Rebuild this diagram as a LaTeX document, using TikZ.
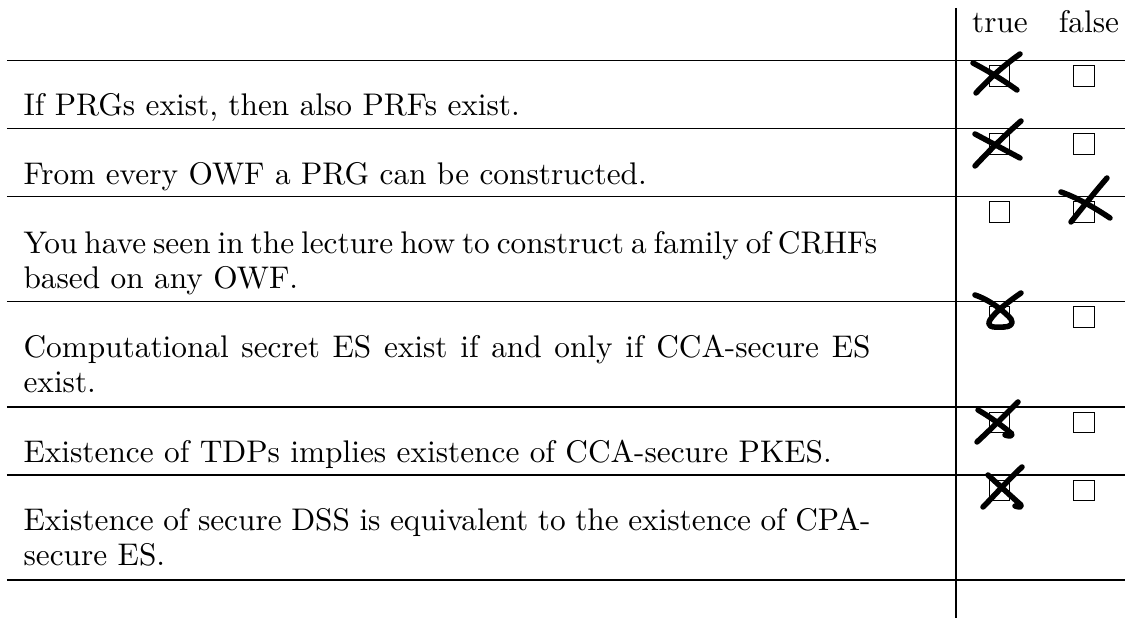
\documentclass[tikz,border=0pt]{standalone}
\begin{document}
\begin{tikzpicture}[x=0.345pt,y=-0.345pt,
  rule/.style={line width=0.4pt},
  txt/.style={anchor=base west,inner sep=0pt,font=\fontsize{10.8}{13}\selectfont},
  hdr/.style={anchor=base,inner sep=0pt,font=\fontsize{10.8}{13}\selectfont},
  cbox/.style={draw,line width=0.35pt,minimum size=7.2pt,inner sep=0pt},
  xmark/.style={line width=1.9pt,line cap=round,line join=round}]
\useasboundingbox (0,0) rectangle (1125,618);
% rules
\foreach \y in {60.5,128.5,196.5,301.5,407,475,580}
  \draw[rule] (7,\y) -- (1125,\y);
\draw[rule] (956,8) -- (956,618);
% header
\node[hdr] (htrue) at (1000,33) {true};
\node[hdr] (hfalse) at (1089,33) {false};
% check boxes
\foreach \y [count=\i] in {60.5,128.5,196.5,301.5,407,475}{
  \node[cbox] (t\i) at (999.5,\y+15.5) {};
  \node[cbox] (f\i) at (1084,\y+15.5) {};
}
% statements
\node[txt] (s1) at (23,116) {If PRGs exist, then also PRFs exist.};
\node[txt] (s2) at (23,185) {From every OWF a PRG can be constructed.};
\node[txt] (s3a) at (23,254) {\makebox[292.2pt][s]{You have seen in the lecture how to construct a family of CRHFs}};
\node[txt] (s3b) at (23,289) {based on any OWF.};
\node[txt] (s4a) at (23,358) {\makebox[292.2pt][s]{Computational secret ES exist if and only if CCA-secure ES}};
\node[txt] (s4b) at (23,393) {exist.};
\node[txt] (s5) at (23,463) {Existence of TDPs implies existence of CCA-secure PKES.};
\node[txt] (s6a) at (23,531) {\makebox[292.2pt][s]{Existence of secure DSS is equivalent to the existence of CPA-}};
\node[txt] (s6b) at (23,566) {secure ES.};
% handwritten crosses
\draw[xmark] (973,63) .. controls (990,72) and (1003,80) .. (1017,90);
\draw[xmark] (1020,54) .. controls (1003,66) and (990,78) .. (976,93);
\draw[xmark] (975,134) .. controls (990,142) and (1005,150) .. (1020,158);
\draw[xmark] (1021,121) .. controls (1005,135) and (990,150) .. (975,166);
\draw[xmark] (1061,192) .. controls (1078,198) and (1095,208) .. (1110,218);
\draw[xmark] (1107,178) .. controls (1095,192) and (1082,208) .. (1071,222);
\draw[xmark] (975,295) .. controls (990,300) and (1005,312) .. (1011,319) .. controls (1014,324) and (1010,327) .. (1004,327);
\draw[xmark] (1021,293) .. controls (1008,302) and (995,312) .. (990,320) .. controls (987,326) and (990,328) .. (1004,327);
\draw[xmark] (978,410) .. controls (992,418) and (1005,428) .. (1012,434) .. controls (1012,437) and (1008,436) .. (1005,435);
\draw[xmark] (1018,402) .. controls (1005,415) and (990,430) .. (977,442);
\draw[xmark] (988,475) .. controls (1000,486) and (1012,497) .. (1021,505) .. controls (1022,508) and (1018,507) .. (1015,506);
\draw[xmark] (1022,467) .. controls (1008,480) and (995,495) .. (983,507);
\end{tikzpicture}
\end{document}
